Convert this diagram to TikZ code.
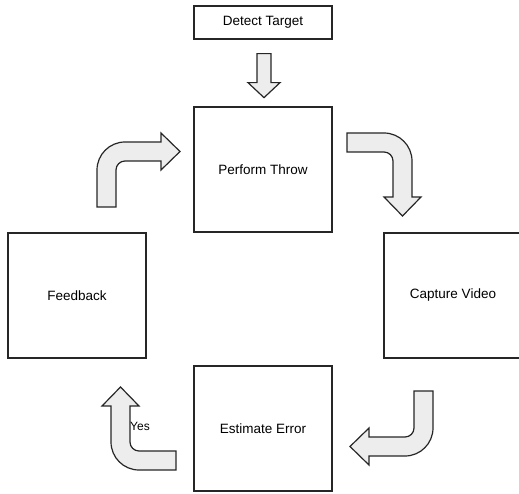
\documentclass[tikz,border=0pt]{standalone}
\usepackage{fontspec}
\setmainfont{Liberation Sans}
\usetikzlibrary{calc}

\begin{document}
\begin{tikzpicture}[
    x=1pt, y=1pt,
    font=\fontsize{13.5}{16}\selectfont,
    box/.style={draw=black!85, fill=white, line width=1.3pt, minimum width=138pt,
                minimum height=125pt, inner sep=0pt, align=center},
    bluntarrow/.style={draw=black!85, fill=black!7, line width=1.2pt},
    % L-shaped block arrow: shaft goes up from the origin, turns right
    turnarrow/.pic={
        \draw[bluntarrow] (0,0) -- (0,37) arc[start angle=180, end angle=90, radius=28]
            -- (64,65) -- (64,74) -- (83,55.5) -- (64,37) -- (64,46) -- (28,46)
            arc[start angle=90, end angle=180, radius=9] -- (19,0) -- cycle;
    }
]
\useasboundingbox (0,0) rectangle (519,-494);

\node[box, minimum height=33pt] (detect) at (263,-22.5) {Detect Target};
\node[box] (throw) at (263,-169.5) {Perform Throw};
\node[box] (capture) at (453,-295.5) {Capture Video};
\node[box] (estimate) at (263,-428.5) {Estimate Error};
\node[box] (feedback) at (77,-295.5) {Feedback};

% straight arrow into the loop
\coordinate (drop) at ($(detect.south)+(1,-14)$);
\draw[bluntarrow] ($(drop)+(-7,0)$) -- ++(0,-29) -- ++(-9,0) -- ++(16,-15)
    -- ++(16,15) -- ++(-9,0) -- ++(0,29) -- cycle;

% bent arrows round the cycle
\coordinate (turnFT) at (97,-207);
\coordinate (turnTC) at (347,-133);
\coordinate (turnCE) at (433,-391);
\coordinate (turnEF) at (176,-470);
\pic at (turnFT) {turnarrow};
\pic[rotate=-90] at (turnTC) {turnarrow};
\pic[rotate=180] at (turnCE) {turnarrow};
\pic[rotate=90] at (turnEF) {turnarrow};

\node[font=\fontsize{12}{14}\selectfont] (yes) at (140,-426) {Yes};

\end{tikzpicture}
\end{document}
